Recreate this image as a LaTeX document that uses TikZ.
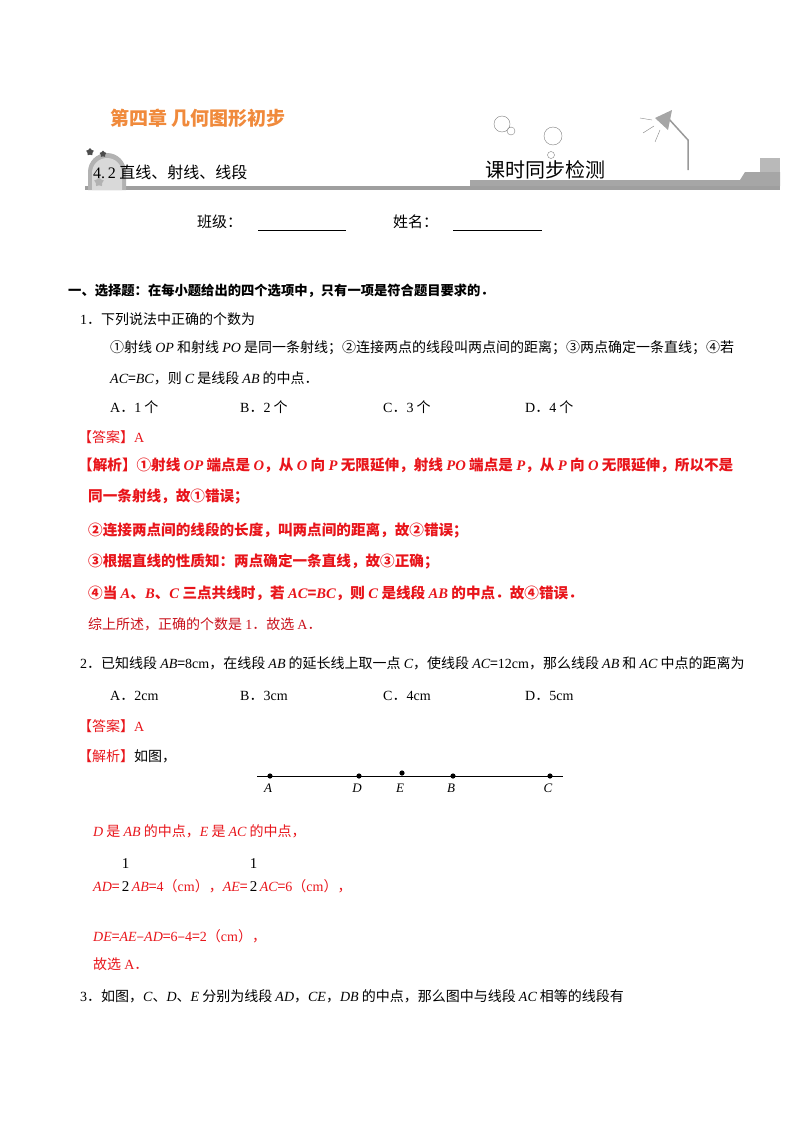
\documentclass[tikz,border=0pt]{standalone}
\usepackage{fontspec}
\usetikzlibrary{shapes.geometric}
\setmainfont{Noto Sans CJK SC}
\newfontfamily\lt{Liberation Serif}
\newcommand\mi[1]{{\lt\itshape #1}}
\newcommand\lr[1]{{\lt #1}}
\newcommand\hf{\,{\color{black}\lt\fontsize{15}{15}\selectfont\makebox[0pt][l]{\raisebox{23pt}{1}}2}\,}
\definecolor{rd}{HTML}{E8151B}
\definecolor{dr}{HTML}{C8101A}
\definecolor{org}{HTML}{F08A3C}
\begin{document}
\begin{tikzpicture}[x=1pt,y=-1pt,
  t/.style={anchor=west,inner sep=0pt,font=\fontsize{14}{15}\selectfont},
  r/.style={t,text=rd},
  rb/.style={r,font=\fontsize{14.6}{15}\selectfont\bfseries},
  lab/.style={anchor=north,inner sep=0pt,font=\fontsize{13}{14}\selectfont\lt\itshape}]
\useasboundingbox (0,0) rectangle (800,1132);
% header
\node[anchor=west,inner sep=0pt,text=org,font=\fontsize{19}{20}\selectfont\bfseries] (title) at (110,118) {第四章\ 几何图形初步};
\fill[gray!75] (85,186) rectangle (780,190);
\fill[gray!60] (88,190) -- (88,172) arc(180:360:19) -- (126,190) -- cycle;
\fill[gray!30] (92,190) -- (92,173) arc(180:360:15) -- (122,190) -- cycle;
\node[star,star points=5,fill=gray!60,minimum size=10pt,inner sep=0pt] (s0) at (99,182) {};
\node[star,star points=5,fill=black!70,minimum size=8pt,inner sep=0pt] (s1) at (90,152) {};
\node[star,star points=5,fill=black!70,minimum size=7pt,inner sep=0pt] (s2) at (103,154) {};
\node[t,font=\fontsize{16}{16}\selectfont] (sec) at (93,172) {\lr{4.\,2}\ 直线、射线、线段};
\fill[gray!70] (470,180) -- (740,180) -- (745,172) -- (780,172) -- (780,186) -- (470,186) -- cycle;
\fill[gray!55] (760,158) rectangle (780,172);
\node[t,font=\fontsize{20}{22}\selectfont] (kc) at (485,170) {课时同步检测};
\draw[gray] (502,124) circle (8) (511,131) circle (4) (553,136) circle (9) (551,155) circle (3.5);
\draw[gray!80,line width=1.5pt] (688,170) -- (688,140) -- (668,118);
\fill[gray!70] (655,118) -- (672,110) -- (668,130) -- cycle;
\draw[gray] (652,120)--(640,118) (654,126)--(643,133) (660,130)--(655,142);
\node[t,font=\fontsize{15}{16}\selectfont] (bj) at (197,222) {班级：};
\draw (258,230) -- (346,230);
\node[t,font=\fontsize{15}{16}\selectfont] (xm) at (393,222) {姓名：};
\draw (453,230) -- (542,230);
% section
\node[t,font=\fontsize{13.3}{14}\selectfont\bfseries] (h) at (68,291) {一、选择题：在每小题给出的四个选项中，只有一项是符合题目要求的．};
\node[t] (q1) at (80,319) {\lr{1}．下列说法中正确的个数为};
\node[t] (q1a) at (110,348) {①射线 \mi{OP} 和射线 \mi{PO} 是同一条射线；②连接两点的线段叫两点间的距离；③两点确定一条直线；④若};
\node[t] (q1b) at (110,378) {\mi{AC}=\mi{BC}，则 \mi{C} 是线段 \mi{AB} 的中点．};
\node[t] at (110,407) {\lr{A}．\lr{1} 个};
\node[t] at (240,407) {\lr{B}．\lr{2} 个};
\node[t] at (383,407) {\lr{C}．\lr{3} 个};
\node[t] at (525,407) {\lr{D}．\lr{4} 个};
\node[r] at (78,437) {【答案】\lr{A}};
\node[rb] at (78,465) {【解析】①射线 \mi{OP} 端点是 \mi{O}，从 \mi{O} 向 \mi{P} 无限延伸，射线 \mi{PO} 端点是 \mi{P}，从 \mi{P} 向 \mi{O} 无限延伸，所以不是};
\node[rb] at (88,497) {同一条射线，故①错误；};
\node[rb] at (88,530) {②连接两点间的线段的长度，叫两点间的距离，故②错误；};
\node[rb] at (88,562) {③根据直线的性质知：两点确定一条直线，故③正确；};
\node[rb] at (88,593) {④当 \mi{A}、\mi{B}、\mi{C} 三点共线时，若 \mi{AC}=\mi{BC}，则 \mi{C} 是线段 \mi{AB} 的中点．故④错误．};
\node[t,text=dr] at (88,624) {综上所述，正确的个数是 \lr{1}．故选 \lr{A}．};
% q2
\node[t] (q2) at (80,663) {\lr{2}．已知线段 \mi{AB}=\lr{8cm}，在线段 \mi{AB} 的延长线上取一点 \mi{C}，使线段 \mi{AC}=\lr{12cm}，那么线段 \mi{AB} 和 \mi{AC} 中点的距离为};
\node[t] at (110,696) {\lr{A}．\lr{2cm}};
\node[t] at (240,696) {\lr{B}．\lr{3cm}};
\node[t] at (383,696) {\lr{C}．\lr{4cm}};
\node[t] at (525,696) {\lr{D}．\lr{5cm}};
\node[r] at (78,726) {【答案】\lr{A}};
\node[t] at (78,756) {\textcolor{rd}{【解析】}如图，};
\coordinate (L) at (257,776); \coordinate (R) at (563,776);
\draw[line width=0.9pt] (L) -- (R);
\foreach \n/\x/\y in {A/270/776,D/359/776,E/402/773,B/453/776,C/550/776}{
  \fill (\x,\y) circle (2.6) coordinate (p\n);
  \node[lab] (l\n) at (\x-2,784) {\n};}
\node[r] at (93,831) {\mi{D} 是 \mi{AB} 的中点，\mi{E} 是 \mi{AC} 的中点，};
\node[r] (frl) at (93,876) {\mi{AD}=\hf\mi{AB}=\lr{4}（\lr{cm}），\mi{AE}=\hf\mi{AC}=\lr{6}（\lr{cm}），};
\node[r] at (93,936) {\mi{DE}=\mi{AE}--\mi{AD}=\lr{6}--\lr{4}=\lr{2}（\lr{cm}），};
\node[r] at (93,964) {故选 \lr{A}．};
\node[t] (q3) at (80,996) {\lr{3}．如图，\mi{C}、\mi{D}、\mi{E} 分别为线段 \mi{AD}，\mi{CE}，\mi{DB} 的中点，那么图中与线段 \mi{AC} 相等的线段有};
\end{tikzpicture}
\end{document}
